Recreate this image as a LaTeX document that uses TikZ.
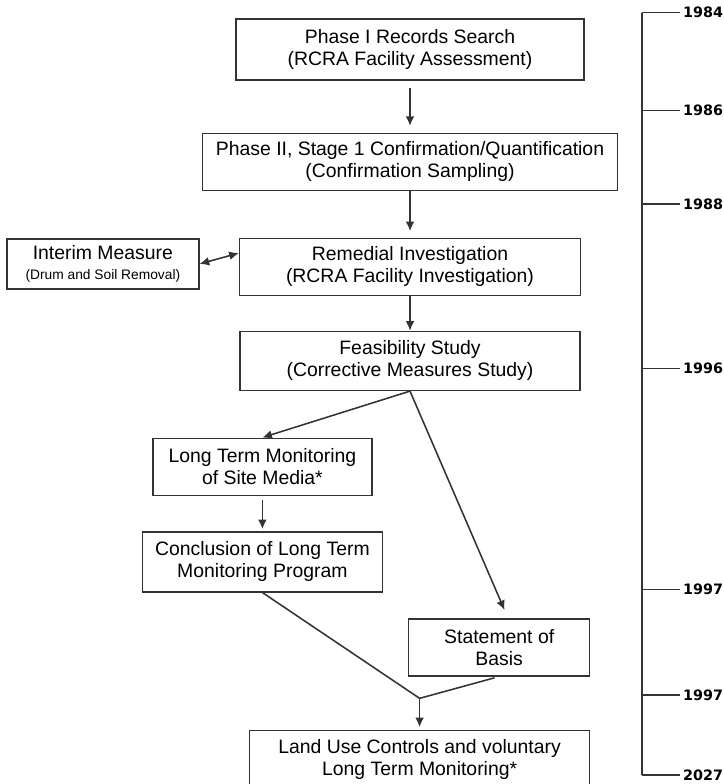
\documentclass[tikz,border=0pt]{standalone}
\usepackage{fontspec}
\setmainfont{Liberation Sans}
\newfontfamily\yearfont{DejaVu Sans}
\usetikzlibrary{arrows.meta, positioning, calc}
\tikzset{
  stage_box/.style={rectangle, draw=black!80, line width=1pt, fill=white, inner sep=2pt, align=center, font=\fontsize{13.8}{15.6}\selectfont},
  arrow/.style={-{Latex[length=2.4mm,width=2.2mm]}, line width=1.1pt, black!80},
  dbl_arrow/.style={{Latex[length=2.4mm,width=2.2mm]}-{Latex[length=2.4mm,width=2.2mm]}, line width=1.1pt, black!80},
  connect/.style={-, line width=1.1pt, black!80},
  year_label/.style={anchor=west, inner sep=2pt, font=\yearfont\bfseries\fontsize{10.2}{11}\selectfont},
  tick_line/.style={-, line width=0.9pt, black!80}
}

\begin{document}
\begin{tikzpicture}
\useasboundingbox (0,0) rectangle (18.1,-19.6);

    % Main column
    \node (phase1) [stage_box, minimum width=8.7cm, minimum height=1.525cm] at (10.25,-1.2375) {Phase I Records Search\\(RCRA Facility Assessment)};
    \node (phase2) [stage_box, below=1.3cm of phase1, minimum width=10.375cm, minimum height=1.425cm] {Phase II, Stage 1 Confirmation/Quantification\\(Confirmation Sampling)};
    \node (remedial) [stage_box, below=1.16cm of phase2, minimum width=8.525cm, minimum height=1.425cm] {Remedial Investigation\\(RCRA Facility Investigation)};
    \node (feasibility) [stage_box, below=0.87cm of remedial, minimum width=8.5cm, minimum height=1.475cm] {Feasibility Study\\(Corrective Measures Study)};
    \node (interim) [stage_box, left=0.98cm of remedial, yshift=0.07cm, minimum width=4.8cm, minimum height=1.25cm] {Interim Measure\\[-1pt]{\fontsize{9.8}{11}\selectfont (Drum and Soil Removal)}};

    % Branches
    \node (monitoring) [stage_box, below=1.16cm of feasibility, xshift=-3.69cm, minimum width=5.475cm, minimum height=1.425cm] {Long Term Monitoring\\of Site Media*};
    \node (conclusion) [stage_box, below=0.88cm of monitoring, minimum width=6cm, minimum height=1.5cm] {Conclusion of Long Term\\Monitoring Program};
    \node (statement) [stage_box, below=5.675cm of feasibility, xshift=2.23cm, minimum width=4.525cm, minimum height=1.425cm] {Statement of\\Basis};
    \node (landuse) [stage_box, below=1.325cm of statement, xshift=-1.99cm, minimum width=8.5cm, minimum height=1.475cm] {Land Use Controls and voluntary\\Long Term Monitoring*};
    \coordinate (merge) at ($(landuse.north)+(0,0.78)$);

    % Connections
    \draw [arrow, shorten <=0.17cm, shorten >=0.17cm] (phase1) -- (phase2);
    \draw [arrow, shorten >=0.16cm] (phase2) -- (remedial);
    \draw [arrow] (remedial) -- (feasibility);
    \draw [dbl_arrow] (interim.east) -- ([yshift=0.34cm]remedial.west);
    \draw [arrow] (feasibility.south) -- (monitoring.north);
    \draw [arrow, shorten >=0.22cm] (feasibility.south) -- ([xshift=0.22cm]statement.north);
    \draw [arrow, shorten <=0.1cm, shorten >=0.05cm] (monitoring) -- (conclusion);
    \draw [connect] (conclusion.south) -- (merge);
    \draw [connect, shorten <=0.12cm] (statement.south) -- (merge);
    \draw [arrow, shorten >=0.06cm] (merge) -- (landuse.north);

    % Timeline
    \foreach \y/\yr [count=\i] in {0.3175/1984, 2.7675/1986, 5.1/1988, 9.2075/1996, 14.7325/1997, 17.375/1997, 19.375/2027} {
        \node (year\i) [year_label] at (17.0,-\y) {\yr};
        \draw [tick_line] (year\i.west) -- ++(-0.95,0) coordinate (tick\i);
    }
    \draw [tick_line] (tick1) -- (tick7);
\end{tikzpicture}
\end{document}
